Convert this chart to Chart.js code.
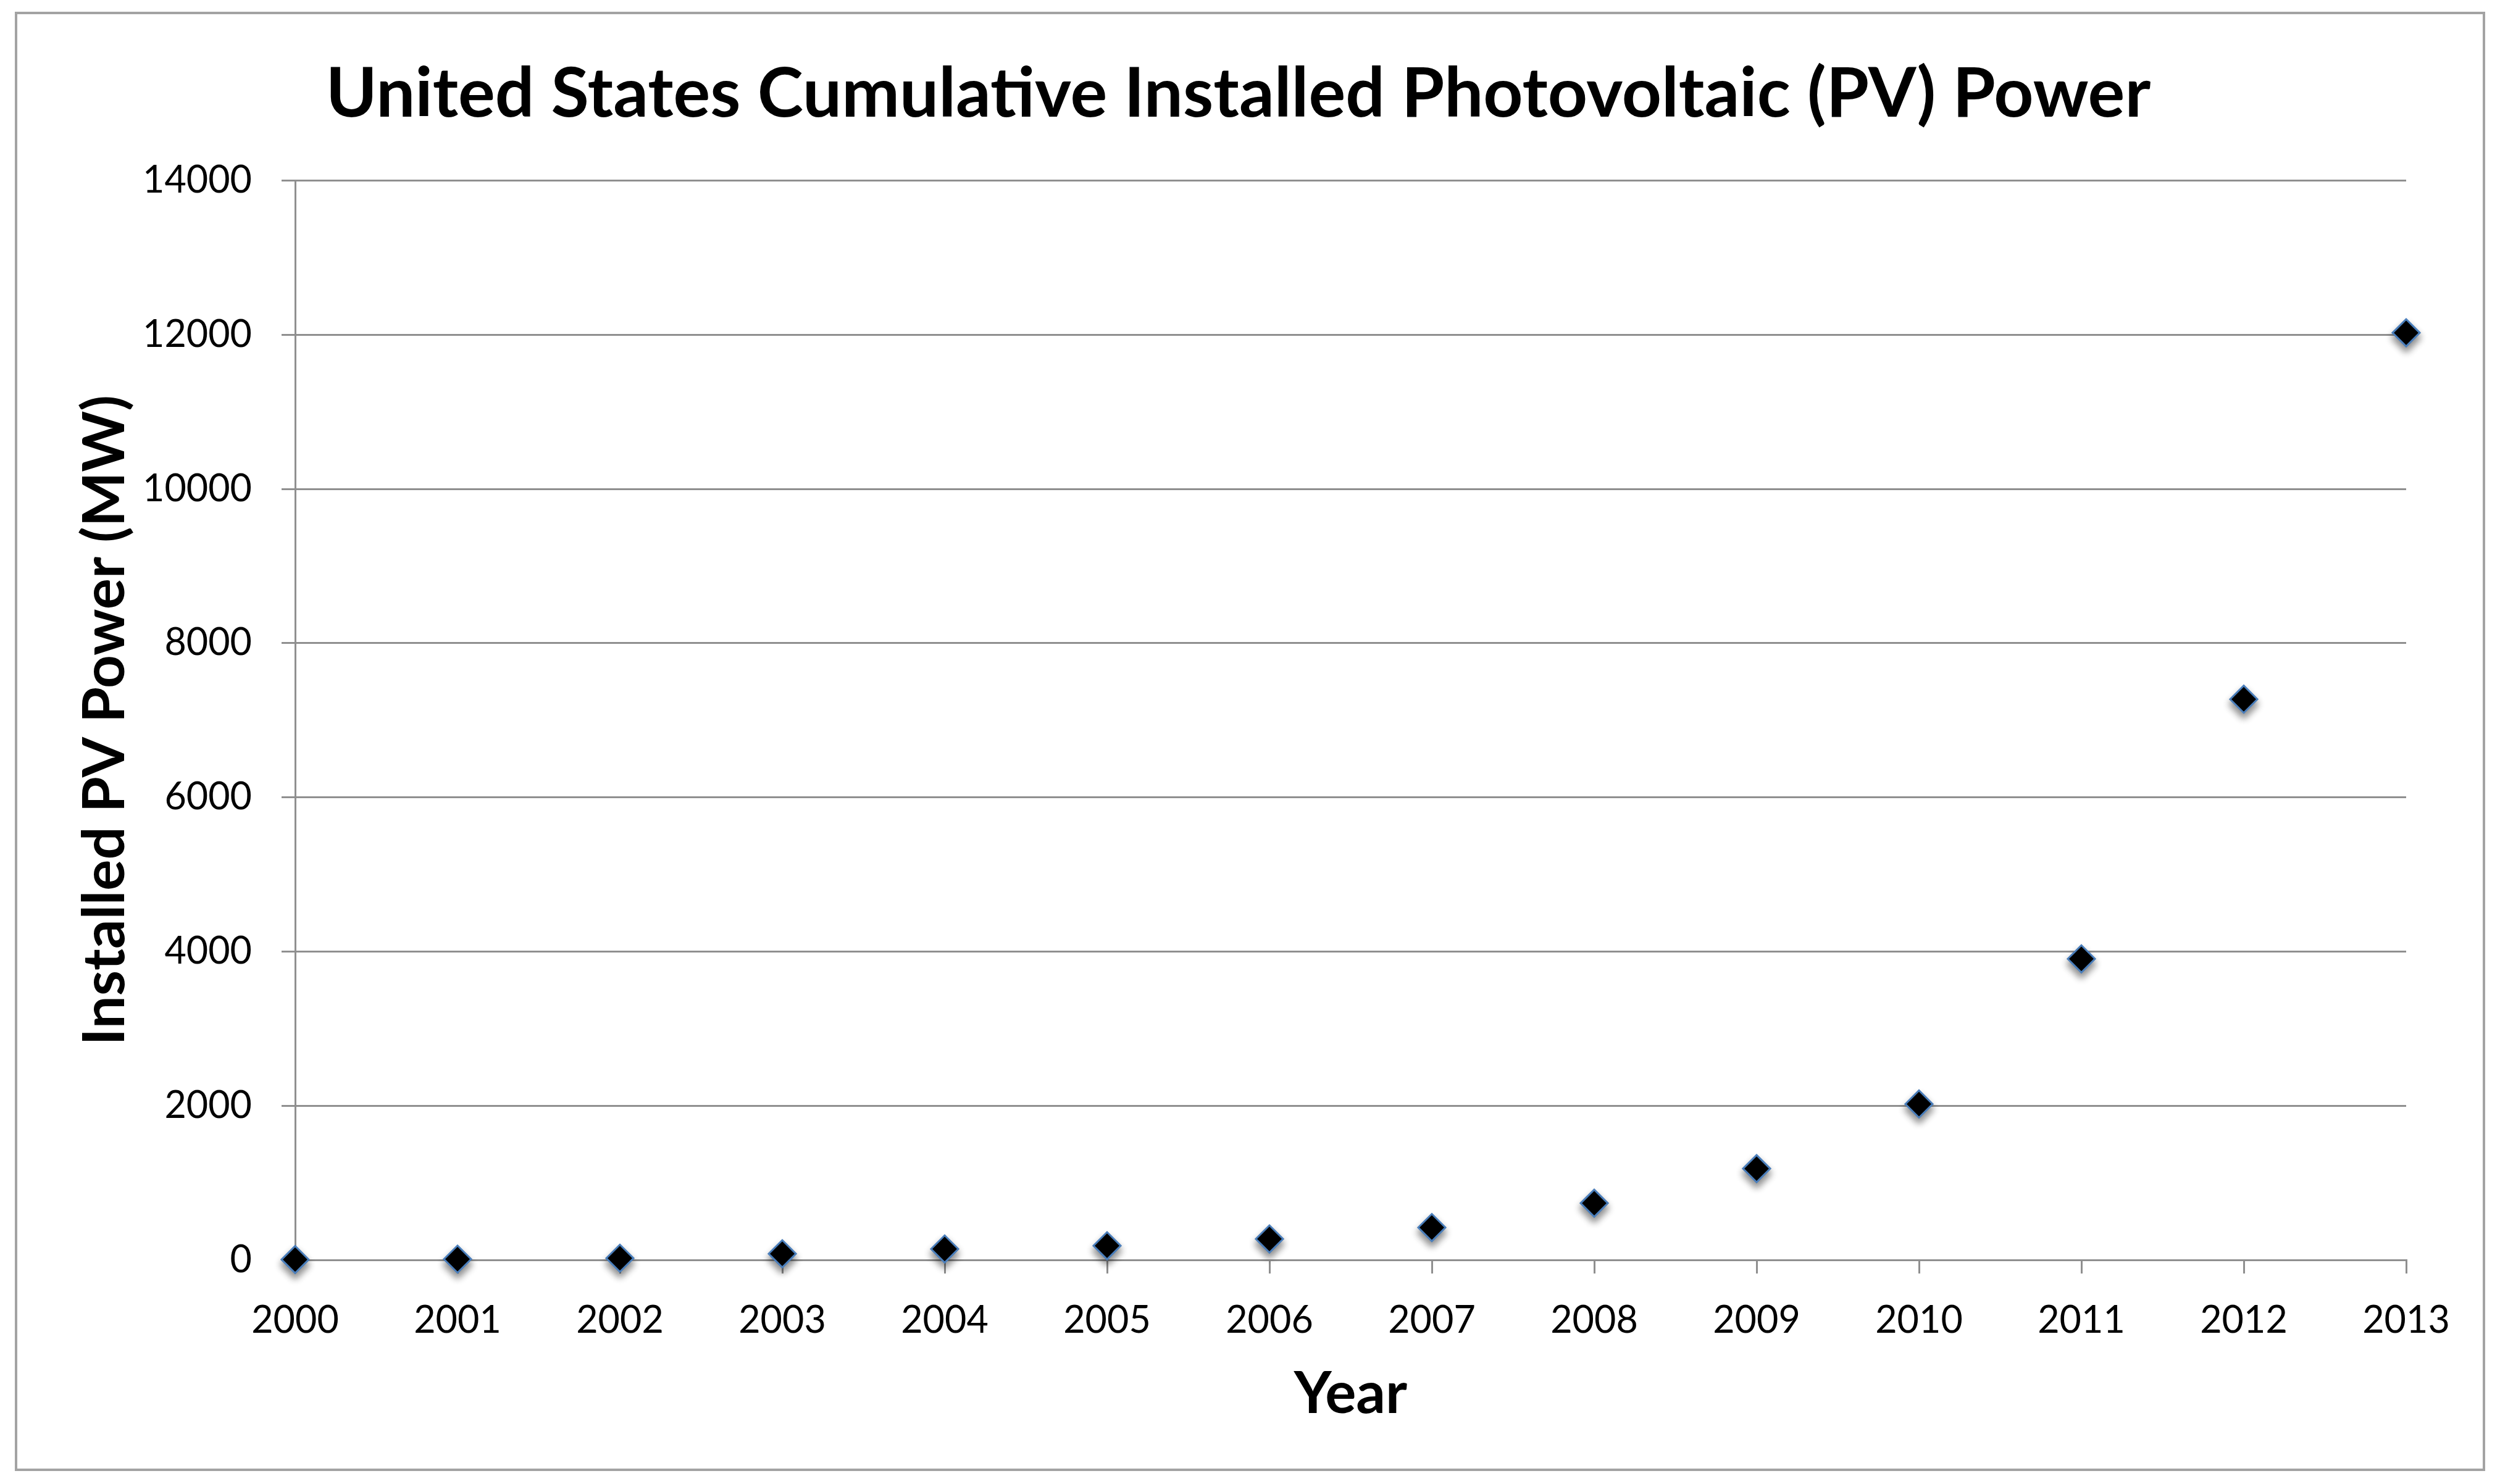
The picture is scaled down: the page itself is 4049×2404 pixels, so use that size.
<!DOCTYPE html>
<html>
<head>
<meta charset="utf-8">
<title>United States Cumulative Installed Photovoltaic (PV) Power</title>
<script src="https://cdn.jsdelivr.net/npm/chart.js@4.4.1/dist/chart.umd.min.js"></script>
<style>
  html, body { margin: 0; padding: 0; background: #fff; }
  #pvChart { display: block; }
</style>
</head>
<body>
<canvas id="pvChart" width="4049" height="2404"></canvas>
<script>
// data
const years = [2000, 2001, 2002, 2003, 2004, 2005, 2006, 2007, 2008, 2009, 2010, 2011, 2012, 2013];
const powerMW = [5, 10, 22, 80, 142, 184, 272, 420, 736, 1184, 2022, 3905, 7272, 12025];
const yTicks = [0, 2000, 4000, 6000, 8000, 10000, 12000, 14000];

const chartTitle = 'United States Cumulative Installed Photovoltaic (PV) Power';
const xTitle = 'Year';
const yTitle = 'Installed PV Power (MW)';

const gridGrey = '#8f8f8f';
const fontFam = 'Lato, "Open Sans", sans-serif';

// outer frame round the whole chart
const framePlugin = {
  id: 'frame',
  beforeDraw(chart) {
    const c = chart.ctx;
    c.save();
    c.fillStyle = '#fff';
    c.fillRect(0, 0, chart.width, chart.height);
    c.strokeStyle = '#a3a3a3';
    c.lineWidth = 4;
    c.strokeRect(26, 21, 3997, 2360);
    c.restore();
  }
};

// soft drop shadow under the markers
const shadowPlugin = {
  id: 'markerShadow',
  beforeDatasetsDraw(chart) {
    const c = chart.ctx;
    c.save();
    c.shadowColor = 'rgba(0,0,0,0.45)';
    c.shadowBlur = 12;
    c.shadowOffsetX = 0;
    c.shadowOffsetY = 8;
  },
  afterDatasetsDraw(chart) {
    chart.ctx.restore();
  }
};

const ctx = document.getElementById('pvChart').getContext('2d');
const chart = new Chart(ctx, {
  type: 'scatter',
  data: {
    datasets: [{
      label: yTitle,
      data: years.map((y, i) => ({ x: y, y: powerMW[i] })),
      pointStyle: 'rectRot',
      pointRadius: 22,
      pointHoverRadius: 22,
      backgroundColor: '#000',
      borderColor: '#4a7ebb',
      borderWidth: 3,
      showLine: false,
      clip: false
    }]
  },
  options: {
    responsive: false,
    animation: false,
    devicePixelRatio: 1,
    layout: { padding: { top: 0, left: 114, right: 152, bottom: 89 } },
    plugins: {
      legend: { display: false },
      tooltip: { enabled: false },
      title: {
        display: true,
        text: chartTitle,
        color: '#000',
        font: { family: fontFam, size: 112, weight: 'bold', lineHeight: 1.2 },
        padding: { top: 86, bottom: 72 }
      }
    },
    scales: {
      x: {
        type: 'linear',
        min: years[0],
        max: years[years.length - 1],
        afterBuildTicks: (scale) => { scale.ticks = years.map(v => ({ value: v })); },
        afterFit: (scale) => { scale.height = 274; },
        grid: { drawOnChartArea: false, drawTicks: true, tickLength: 22, color: gridGrey, lineWidth: 3 },
        border: { display: true, color: gridGrey, width: 3 },
        ticks: {
          color: '#000',
          padding: 40,
          maxRotation: 0,
          autoSkip: false,
          font: { family: fontFam, size: 61 },
          callback: (v) => String(v)
        },
        title: {
          display: true,
          text: xTitle,
          color: '#000',
          padding: 0,
          font: { family: fontFam, size: 94, weight: 'bold', lineHeight: 1.2 }
        }
      },
      y: {
        min: yTicks[0],
        max: yTicks[yTicks.length - 1],
        afterBuildTicks: (scale) => { scale.ticks = yTicks.map(v => ({ value: v })); },
        afterFit: (scale) => { scale.width = 364; },
        grid: { drawTicks: true, tickLength: 22, color: gridGrey, lineWidth: 3 },
        border: { display: true, color: gridGrey, width: 3 },
        ticks: {
          color: '#000',
          padding: 48,
          font: { family: fontFam, size: 61 },
          callback: (v) => String(v)
        },
        title: {
          display: true,
          text: yTitle,
          color: '#000',
          padding: 0,
          font: { family: fontFam, size: 94, weight: 'bold', lineHeight: 1.2 }
        }
      }
    }
  },
  plugins: [framePlugin, shadowPlugin]
});
</script>
</body>
</html>
